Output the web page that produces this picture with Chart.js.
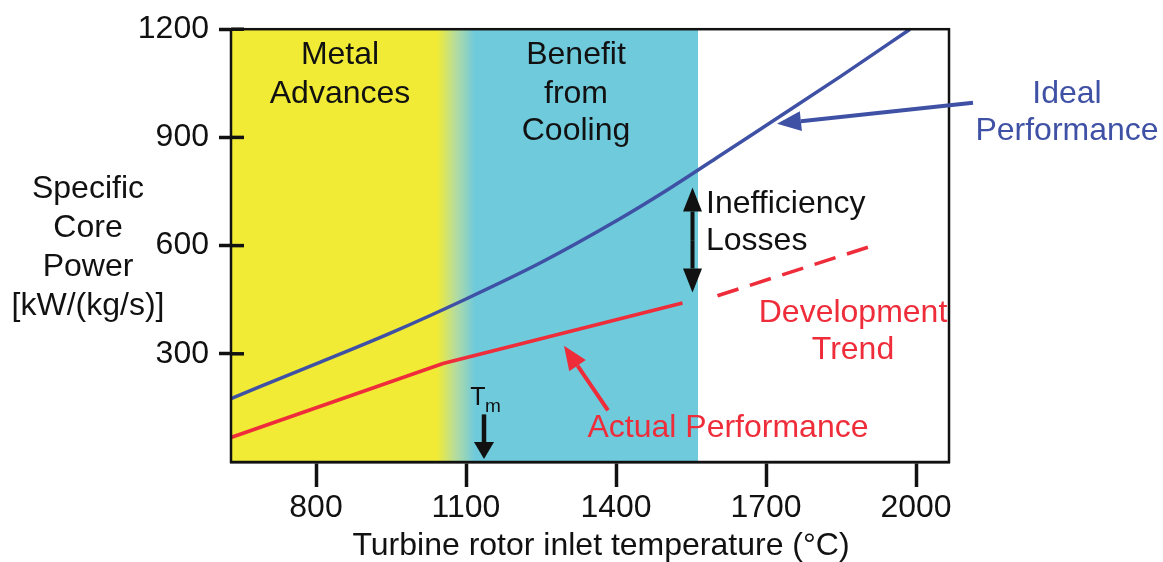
<!DOCTYPE html>
<html>
<head>
<meta charset="utf-8">
<script src="https://cdn.jsdelivr.net/npm/chart.js@4.4.1/dist/chart.umd.min.js"></script>
<style>
  html, body { margin: 0; padding: 0; background: #ffffff; }
  canvas { display: block; }
</style>
</head>
<body>
<canvas id="chart" width="1163" height="562"></canvas>
<script>
// Turbine rotor inlet temperature vs specific core power

const xTicks = [800, 1100, 1400, 1700, 2000];
const yTicks = [300, 600, 900, 1200];

// Ideal performance (blue curve)
const idealTemp = [630, 800, 950, 1100, 1250, 1400, 1500, 1600, 1700, 1850, 1988];
const idealPower = [176, 272, 358, 452, 553, 668, 752, 842, 933, 1070, 1200];

// Actual performance (red, solid) and development trend (red, dashed)
const actualTemp = [630, 1054, 1533];
const actualPower = [68, 273, 441];
const trendTemp = [1603, 1916];
const trendPower = [461, 601];

// Background regions (°C)
const metalBand = [630, 1042];
const blendBand = [1042, 1118];
const coolingBand = [1118, 1564];

// Arrows: [x1, y1, x2, y2] in data units, head at the second point
const lossArrow = [1553, 615, 1553, 470];
const lossArrowUp = [1553, 615, 1553, 761];
const tmArrow = [1136, 132, 1136, 8];
const idealPointer = [2114, 996, 1722, 938];
const actualPointer = [1384, 143, 1296, 322];

const BLUE = '#3f51a5';
const RED = '#ee2c3a';
const INK = '#111111';
const FONT = "'Liberation Sans', Arial, sans-serif";
const SIZE = 32;

const toPts = (xs, ys) => xs.map((x, i) => ({ x, y: ys[i] }));

function arrow(ctx, x1, y1, x2, y2, color, lw, headLen, headW) {
    const a = Math.atan2(y2 - y1, x2 - x1);
    const bx = x2 - Math.cos(a) * headLen;
    const by = y2 - Math.sin(a) * headLen;
    ctx.strokeStyle = color;
    ctx.fillStyle = color;
    ctx.lineWidth = lw;
    ctx.beginPath();
    ctx.moveTo(x1, y1);
    ctx.lineTo(bx, by);
    ctx.stroke();
    ctx.beginPath();
    ctx.moveTo(x2, y2);
    ctx.lineTo(bx + Math.sin(a) * headW / 2, by - Math.cos(a) * headW / 2);
    ctx.lineTo(bx - Math.sin(a) * headW / 2, by + Math.cos(a) * headW / 2);
    ctx.closePath();
    ctx.fill();
}

// Coloured regions behind the curves
const bandsPlugin = {
    id: 'bands',
    beforeDatasetsDraw(chart) {
        const { ctx, chartArea: ca, scales: { x } } = chart;
        const h = ca.bottom - ca.top;
        ctx.save();
        ctx.fillStyle = '#f1eb35';
        ctx.fillRect(x.getPixelForValue(metalBand[0]), ca.top,
            x.getPixelForValue(metalBand[1]) - x.getPixelForValue(metalBand[0]), h);
        const g0 = x.getPixelForValue(blendBand[0]);
        const g1 = x.getPixelForValue(blendBand[1]);
        const grad = ctx.createLinearGradient(g0, 0, g1, 0);
        grad.addColorStop(0, '#f1eb35');
        grad.addColorStop(0.5, '#b4dca0');
        grad.addColorStop(1, '#6fcadc');
        ctx.fillStyle = grad;
        ctx.fillRect(g0, ca.top, g1 - g0 + 0.5, h);
        ctx.fillStyle = '#6fcadc';
        ctx.fillRect(g1, ca.top,
            x.getPixelForValue(coolingBand[1]) - g1, h);
        ctx.restore();
    }
};

// Frame, inner tick stubs, arrows and labels
const decorPlugin = {
    id: 'decor',
    afterDraw(chart) {
        const { ctx, chartArea: ca, scales: { x, y } } = chart;
        const px = v => x.getPixelForValue(v);
        const py = v => y.getPixelForValue(v);
        ctx.save();

        // frame
        ctx.strokeStyle = INK;
        ctx.lineWidth = 2.5;
        ctx.strokeRect(ca.left, ca.top, ca.right - ca.left, ca.bottom - ca.top);

        // y tick stubs inside the plot
        ctx.lineWidth = 3.5;
        yTicks.forEach(v => {
            ctx.beginPath();
            ctx.moveTo(ca.left, py(v));
            ctx.lineTo(ca.left + 13, py(v));
            ctx.stroke();
        });

        // arrows
        arrow(ctx, px(lossArrow[0]), py(lossArrow[1]), px(lossArrow[2]), py(lossArrow[3]), INK, 4, 24, 19);
        arrow(ctx, px(lossArrowUp[0]), py(lossArrowUp[1]), px(lossArrowUp[2]), py(lossArrowUp[3]), INK, 4, 24, 19);
        arrow(ctx, px(tmArrow[0]), py(tmArrow[1]), px(tmArrow[2]), py(tmArrow[3]), INK, 4.5, 17, 20);
        arrow(ctx, px(idealPointer[0]), py(idealPointer[1]), px(idealPointer[2]), py(idealPointer[3]), BLUE, 4, 24, 20);
        arrow(ctx, px(actualPointer[0]), py(actualPointer[1]), px(actualPointer[2]), py(actualPointer[3]), RED, 4, 24, 20);

        // text
        ctx.font = SIZE + 'px ' + FONT;
        ctx.textBaseline = 'middle';
        const lines = (arr, cx, yVals, color, align) => {
            ctx.fillStyle = color;
            ctx.textAlign = align;
            arr.forEach((t, i) => ctx.fillText(t, px(cx), py(yVals[i])));
        };
        lines(['Metal', 'Advances'], 848, [1129, 1020], INK, 'center');
        lines(['Benefit', 'from', 'Cooling'], 1320, [1129, 1020, 917], INK, 'center');
        lines(['Inefficiency', 'Losses'], 1580, [715, 611], INK, 'left');
        lines(['Development', 'Trend'], 1874, [413, 309], RED, 'center');
        lines(['Actual Performance'], 1624, [95], RED, 'center');
        lines(['Ideal', 'Performance'], 2302, [1020, 917], BLUE, 'center');

        // T_m label
        ctx.fillStyle = INK;
        ctx.textAlign = 'center';
        ctx.font = '25px ' + FONT;
        ctx.fillText('T', px(1136) - 6, py(178));
        ctx.font = '19px ' + FONT;
        ctx.fillText('m', px(1136) + 9, py(152));

        // axis titles
        ctx.font = SIZE + 'px ' + FONT;
        ctx.textAlign = 'center';
        ['Specific', 'Core', 'Power', '[kW/(kg/s)]'].forEach((t, i) => {
            ctx.fillText(t, 88, 189 + i * 39);
        });
        ctx.fillText('Turbine rotor inlet temperature (°C)', 601, 546);

        ctx.restore();
    }
};

new Chart(document.getElementById('chart'), {
    type: 'line',
    data: {
        datasets: [
            {
                label: 'Ideal Performance',
                data: toPts(idealTemp, idealPower),
                borderColor: BLUE,
                borderWidth: 3.5,
                pointRadius: 0,
                cubicInterpolationMode: 'monotone'
            },
            {
                label: 'Actual Performance',
                data: toPts(actualTemp, actualPower),
                borderColor: RED,
                borderWidth: 3.5,
                pointRadius: 0,
                tension: 0
            },
            {
                label: 'Development Trend',
                data: toPts(trendTemp, trendPower),
                borderColor: RED,
                borderWidth: 3.5,
                borderDash: [22, 12],
                pointRadius: 0,
                tension: 0
            }
        ]
    },
    options: {
        responsive: false,
        devicePixelRatio: 1,
        animation: false,
        layout: { padding: { left: 0, top: 22, right: 214, bottom: 0 } },
        plugins: { legend: { display: false }, tooltip: { enabled: false } },
        scales: {
            x: {
                type: 'linear',
                min: 630,
                max: 2066,
                afterBuildTicks: s => { s.ticks = xTicks.map(v => ({ value: v })); },
                afterFit: s => { s.height = 100; },
                ticks: {
                    color: INK, font: { family: FONT, size: SIZE }, padding: 2, maxRotation: 0,
                    callback: v => String(v)
                },
                grid: { drawOnChartArea: false, tickLength: 25, tickWidth: 3.5, tickColor: INK },
                border: { color: INK, width: 2.5 }
            },
            y: {
                min: 0,
                max: 1200,
                afterBuildTicks: s => { s.ticks = yTicks.map(v => ({ value: v })); },
                afterFit: s => { s.width = 231; },
                ticks: {
                    color: INK, font: { family: FONT, size: SIZE }, padding: 10,
                    callback: v => String(v)
                },
                grid: { drawOnChartArea: false, tickLength: 12, tickWidth: 3.5, tickColor: INK },
                border: { color: INK, width: 2.5 }
            }
        }
    },
    plugins: [bandsPlugin, decorPlugin]
});
</script>
</body>
</html>
